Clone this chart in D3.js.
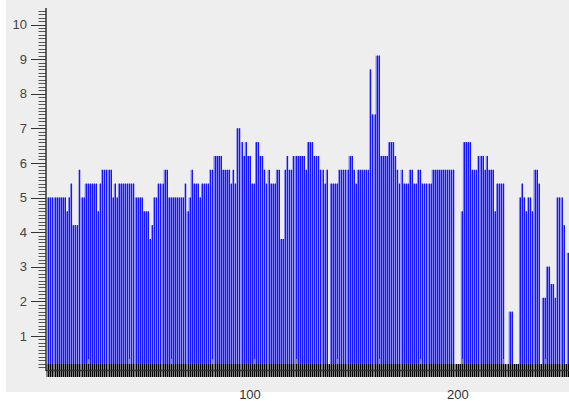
<!DOCTYPE html>
<html>
<head>
<meta charset="utf-8">
<script src="https://cdn.jsdelivr.net/npm/d3@7"></script>
<style>
body { margin: 0; background: #fff; }
text { font-family: "Liberation Sans", Arial, sans-serif; }
</style>
</head>
<body>
<div id="chart"></div>
<script>
// one value per sample, samples 1..251
var values = [
  5.0,5.0,5.0,5.0,5.0,5.0,5.0,5.0,5.0,4.6,
  5.0,5.4,4.2,4.2,4.2,5.8,5.0,5.0,5.4,5.4,
  5.4,5.4,5.4,5.4,4.6,5.4,5.8,5.8,5.8,5.8,
  5.8,5.0,5.4,5.0,5.4,5.4,5.4,5.4,5.4,5.4,
  5.4,5.4,5.0,5.0,5.0,5.0,4.6,4.6,4.6,3.8,
  4.2,5.0,5.0,5.4,5.4,5.4,5.8,5.8,5.0,5.0,
  5.0,5.0,5.0,5.0,5.0,5.0,5.4,4.6,5.0,5.8,
  5.4,5.4,5.4,5.0,5.4,5.4,5.4,5.4,5.8,5.8,
  6.2,6.2,6.2,6.2,5.8,5.8,5.8,5.8,5.4,5.8,
  5.4,7.0,7.0,6.6,6.2,6.6,6.2,6.2,5.4,5.4,
  6.6,6.6,6.2,6.2,5.8,5.4,5.8,5.4,5.4,5.4,
  5.8,5.8,3.8,3.8,5.8,6.2,5.8,5.8,6.2,6.2,
  6.2,6.2,6.2,6.2,5.8,6.6,6.6,6.6,6.2,6.2,
  6.2,5.8,5.8,5.4,5.8,0,5.4,5.4,5.4,5.4,
  5.8,5.8,5.8,5.8,5.8,6.2,6.2,5.8,5.4,5.8,
  5.8,5.8,5.8,5.8,5.8,8.7,7.4,7.4,9.1,9.1,
  6.2,6.2,6.2,6.2,6.6,6.6,6.6,6.2,5.8,5.4,
  5.8,5.4,5.4,5.4,5.8,5.8,5.4,5.4,5.8,5.8,
  5.4,5.4,5.4,5.4,5.4,5.8,5.8,5.8,5.8,5.8,
  5.8,5.8,5.8,5.8,5.8,5.8,0,0,0,4.6,
  6.6,6.6,6.6,6.6,5.8,5.8,5.8,6.2,6.2,6.2,
  5.8,6.2,5.8,5.8,5.8,4.6,5.4,5.4,5.4,5.4,
  0,0,1.7,1.7,0,0,0,5.0,5.4,5.0,
  4.6,5.0,5.0,4.6,5.8,5.8,5.4,0,2.1,2.1,
  3.0,3.0,2.5,2.5,2.1,5.0,5.0,5.0,4.2,0,
  3.4
];
var samples = d3.range(1, values.length + 1);

var yTickValues = [1,2,3,4,5,6,7,8,9,10];
var xLabelValues = [100, 200];

var width = 569, height = 401;

var svg = d3.select("#chart").append("svg")
  .attr("width", width)
  .attr("height", height);

// background
svg.append("rect").attr("x", 0).attr("y", 0).attr("width", width).attr("height", height).attr("fill", "#ffffff");
svg.append("rect").attr("x", 6).attr("y", 0).attr("width", width - 6).attr("height", 392).attr("fill", "#eeeeee");

var x = d3.scaleLinear().domain([0, 100]).range([46.2, 254]);
var y = d3.scaleLinear().domain([0, 10]).range([370.5, 24.5]);

var step = x(1) - x(0);

// bars
var bars = svg.append("g");
bars.selectAll("rect")
  .data(samples)
  .enter().append("rect")
  .attr("x", function(d) { return x(d) - step / 2; })
  .attr("width", step)
  .attr("y", function(d) { return y(values[d - 1]); })
  .attr("height", function(d) { return Math.max(0, 364 - y(values[d - 1])); })
  .attr("fill", "#7d7dfa")
  .style("display", function(d) { return values[d - 1] > 0 ? null : "none"; });

bars.selectAll("line")
  .data(samples.filter(function(d) { return values[d - 1] > 0; }))
  .enter().append("line")
  .attr("x1", function(d) { return Math.round(x(d)) + 0.5; })
  .attr("x2", function(d) { return Math.round(x(d)) + 0.5; })
  .attr("y1", function(d) { return y(values[d - 1]); })
  .attr("y2", 364)
  .attr("stroke", "#1414ff")
  .attr("stroke-width", 1);

// x axis band with a tick per sample
svg.append("rect")
  .attr("x", 46).attr("y", 364).attr("width", width - 46).attr("height", 13)
  .attr("fill", "#808080");

svg.append("g").selectAll("line")
  .data(d3.range(1, 252))
  .enter().append("line")
  .attr("x1", function(d) { return Math.round(x(d)) + 0.5; })
  .attr("x2", function(d) { return Math.round(x(d)) + 0.5; })
  .attr("y1", 364).attr("y2", 377)
  .attr("stroke", "#000").attr("stroke-width", 1);

svg.append("g").selectAll("line")
  .data(d3.range(20, 252, 20))
  .enter().append("line")
  .attr("x1", function(d) { return Math.round(x(d)) + 0.5; })
  .attr("x2", function(d) { return Math.round(x(d)) + 0.5; })
  .attr("y1", 359).attr("y2", 364)
  .attr("stroke", "#808080").attr("stroke-width", 1);

svg.append("line")
  .attr("x1", 46).attr("x2", width)
  .attr("y1", 370.5).attr("y2", 370.5)
  .attr("stroke", "#333").attr("stroke-width", 1.5);

svg.append("g").selectAll("text")
  .data(xLabelValues)
  .enter().append("text")
  .attr("x", function(d) { return x(d) - 4; })
  .attr("y", 399)
  .attr("text-anchor", "middle")
  .attr("font-size", 13)
  .attr("fill", "#333")
  .text(function(d) { return d; });

// y axis
var yAxis = svg.append("g");
yAxis.selectAll("line.minor")
  .data(d3.range(1, 105))
  .enter().append("line")
  .attr("class", "minor")
  .attr("x1", 38.5).attr("x2", 46)
  .attr("y1", function(d) { return Math.round(y(d / 10)) + 0.5; })
  .attr("y2", function(d) { return Math.round(y(d / 10)) + 0.5; })
  .attr("stroke", "#555").attr("stroke-width", 1);

yAxis.selectAll("line.major")
  .data(yTickValues)
  .enter().append("line")
  .attr("class", "major")
  .attr("x1", 31).attr("x2", 46)
  .attr("y1", function(d) { return Math.round(y(d)) + 0.5; })
  .attr("y2", function(d) { return Math.round(y(d)) + 0.5; })
  .attr("stroke", "#333").attr("stroke-width", 1);

yAxis.append("line")
  .attr("x1", 46).attr("x2", 46)
  .attr("y1", 8).attr("y2", 371)
  .attr("stroke", "#333").attr("stroke-width", 1.5);

yAxis.selectAll("text")
  .data(yTickValues)
  .enter().append("text")
  .attr("x", 27)
  .attr("y", function(d) { return y(d); })
  .attr("dy", "0.36em")
  .attr("text-anchor", "end")
  .attr("font-size", 13)
  .attr("fill", "#444")
  .text(function(d) { return d; });
</script>
</body>
</html>
